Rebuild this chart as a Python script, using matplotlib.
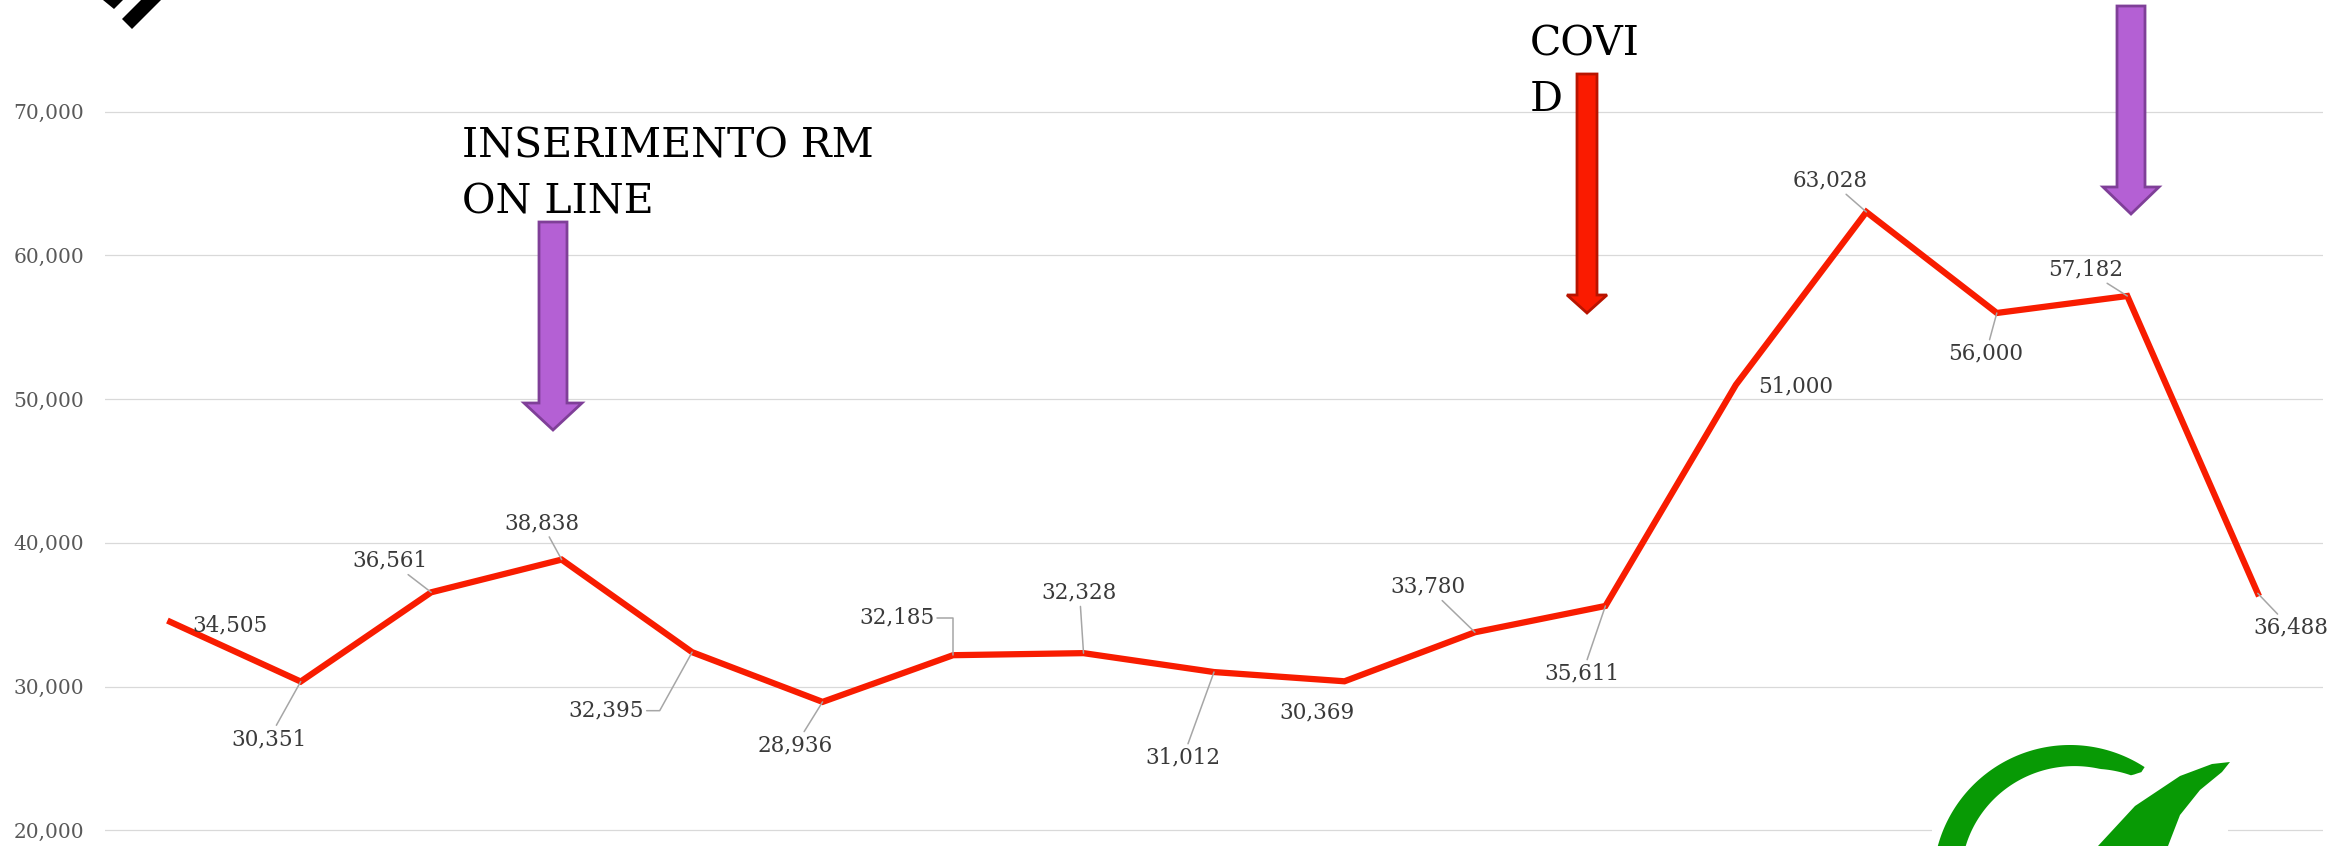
import numpy as np
import matplotlib.pyplot as plt
from matplotlib.patches import Polygon, Rectangle
from matplotlib.ticker import FuncFormatter

plt.rcParams['font.family'] = ['DejaVu Serif']

# Valori della serie (le etichette dell'asse x sono fuori dal ritaglio)
values = [34505, 30351, 36561, 38838, 32395, 28936, 32185, 32328, 31012,
          30369, 33780, 35611, 51000, 63028, 56000, 57182, 36488]
labels = [f"{v:,}" for v in values]
yticks = [20000, 30000, 40000, 50000, 60000, 70000]
x = np.arange(len(values))

# posizione delle etichette rispetto al punto (pixel) e tipo di linea guida
offsets = [(60, -1), (-32, -55), (-41, 34), (-20, 39), (-86, -56), (-27, -41),
           (-56, 40), (-4, 63), (-31, -83), (-27, -29), (-47, 48), (-23, -65),
           (60, 1), (-36, 34), (-11, -38), (-42, 29), (33, -32)]
leaders = [None, 'line', 'line', 'line', 61, 'line', 90, 'line', 'line', None,
           'line', 'line', None, 'line', 'line', 'line', 'line']

W, H = 2351, 846
fig = plt.figure(figsize=(W / 100, H / 100), dpi=100)
ax = fig.add_axes([105 / W, 0, 2218 / W, 1])


def px(xp, yp):
    return (xp / W, 1 - yp / H)


ax.plot(x, values, color='#f81c00', lw=4.5, solid_joinstyle='miter', zorder=3)

for i in range(len(values)):
    kind = leaders[i]
    if kind is None:
        props = None
    elif kind == 'line':
        props = dict(arrowstyle='-', color='#a6a6a6', lw=1.1, shrinkA=0, shrinkB=0)
    else:
        props = dict(arrowstyle='-', color='#a6a6a6', lw=1.1, shrinkA=0, shrinkB=0,
                     relpos=(1, 0.5),
                     connectionstyle=f'angle,angleA=0,angleB={kind},rad=0')
    ax.annotate(labels[i], (x[i], values[i]), xytext=offsets[i],
                textcoords='offset pixels', ha='center', va='center_baseline',
                fontsize=15.5, color='#3a3a3a', arrowprops=props,
                annotation_clip=False, zorder=4)

ax.set_xlim(-0.5, 16.5)
ax.set_ylim(18907, 77780)
ax.set_yticks(yticks)
ax.yaxis.set_major_formatter(FuncFormatter(lambda v, p: f"{int(v):,}"))
ax.set_xticks([])
ax.tick_params(axis='y', length=0, pad=15, labelsize=14.5, labelcolor='#595959')
ax.grid(axis='y', color='#d9d9d9', lw=0.9)
ax.set_axisbelow(True)
for s in ax.spines.values():
    s.set_visible(False)


# frecce
def freccia(xc, top, base, tip, shaft, head, fc, ec):
    pts = [(xc - shaft / 2, top), (xc + shaft / 2, top), (xc + shaft / 2, base),
           (xc + head / 2, base), (xc, tip), (xc - head / 2, base),
           (xc - shaft / 2, base)]
    fig.add_artist(Polygon([px(*p) for p in pts], closed=True, facecolor=fc,
                           edgecolor=ec, lw=2, transform=fig.transFigure, zorder=5))


freccia(553, 222, 403, 430, 28, 58, '#b460d4', '#7f3f98')
freccia(1587, 74, 295, 313, 20, 40, '#fa1b00', '#b81400')
freccia(2131, 6, 187, 214, 28, 56, '#b460d4', '#7f3f98')

# va='baseline' aggancia l'ultima riga
fig.text(*px(462, 213), "INSERIMENTO RM\nON LINE", fontsize=29.5, va='baseline',
         ha='left', linespacing=1.5, color='black')
fig.text(*px(1530, 111), "COVI\nD", fontsize=29.5, va='baseline',
         ha='left', linespacing=1.5, color='black')

# decorazione in alto a sinistra
fig.add_artist(Polygon([px(122, 19), px(132, 29), px(161, 0), px(141, 0)],
                       facecolor='black', edgecolor='none',
                       transform=fig.transFigure, zorder=5))
fig.add_artist(Polygon([px(103, 0), px(114, 9), px(123, 0)],
                       facecolor='black', edgecolor='none',
                       transform=fig.transFigure, zorder=5))

# logo verde in basso a destra
fig.add_artist(Rectangle(px(1932, 846), 296 / W, 106 / H, facecolor='white',
                         edgecolor='none', transform=fig.transFigure, zorder=5))
th = np.linspace(165, 57, 100)
r_out = 137
w = np.interp(th, [57, 60, 75, 165], [6, 14, 20, 27])
t = np.radians(th)
outer = [px(2070 + r_out * np.cos(a), 882 - r_out * np.sin(a)) for a in t]
inner = [px(2070 + (r_out - ww) * np.cos(a), 882 - (r_out - ww) * np.sin(a))
         for a, ww in zip(t[::-1], w[::-1])]
fig.add_artist(Polygon(outer + inner, closed=True, facecolor='#089a05',
                       edgecolor='none', transform=fig.transFigure, zorder=6))
stroke = [(2098, 846), (2135, 806), (2180, 776), (2212, 764), (2230, 762),
          (2222, 772), (2200, 790), (2180, 815), (2168, 846)]
fig.add_artist(Polygon([px(*p) for p in stroke], closed=True, facecolor='#089a05',
                       edgecolor='none', transform=fig.transFigure, zorder=6))

fig.savefig('out.png', dpi=100)
